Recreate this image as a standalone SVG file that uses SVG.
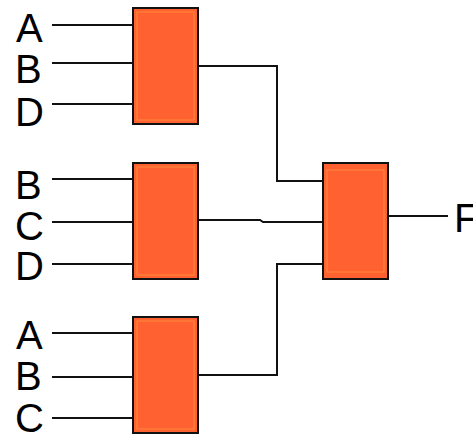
<svg xmlns="http://www.w3.org/2000/svg" width="473" height="437" viewBox="0 0 473 437">
<style>
.gate{fill:#FF6131;stroke:#111;stroke-width:2}
.inner{fill:none;stroke:#FF8A3C;stroke-width:1}
.w{fill:none;stroke:#111;stroke-width:2}
.lbl{font-family:"Liberation Sans",Arial,sans-serif;font-size:40px;fill:#000}
</style>
<rect width="473" height="437" fill="#fff"/>
<g id="connectors">
<path class="w" d="M52 25H133M52 63H133M52 104H133"/>
<path class="w" d="M52 179H133M52 222H133M52 264H133"/>
<path class="w" d="M52 333H133M52 377H133M52 418H133"/>
<path class="w" d="M198 66H277V181H323"/>
<path class="w" d="M198 220H260L263 222H323"/>
<path class="w" d="M198 375H277V264H323"/>
<path class="w" d="M388 216H448"/>
</g>
<g id="gate1"><rect class="gate" x="133" y="8" width="65" height="116"/><rect class="inner" x="137" y="12" width="57" height="108"/></g>
<g id="gate2"><rect class="gate" x="133" y="163" width="65" height="116"/><rect class="inner" x="137" y="167" width="57" height="108"/></g>
<g id="gate3"><rect class="gate" x="133" y="317" width="65" height="116"/><rect class="inner" x="137" y="321" width="57" height="108"/></g>
<g id="gate4"><rect class="gate" x="323" y="163" width="65" height="116"/><rect class="inner" x="327" y="170" width="57" height="102"/></g>
<g id="labels">
<text class="lbl" x="16" y="42">A</text>
<text class="lbl" x="15" y="83">B</text>
<text class="lbl" x="15" y="126">D</text>
<text class="lbl" x="15" y="199">B</text>
<text class="lbl" x="15" y="240">C</text>
<text class="lbl" x="15" y="280">D</text>
<text class="lbl" x="16" y="349">A</text>
<text class="lbl" x="15" y="390">B</text>
<text class="lbl" x="15" y="432">C</text>
<text class="lbl" x="454" y="232">F</text>
</g>
</svg>
